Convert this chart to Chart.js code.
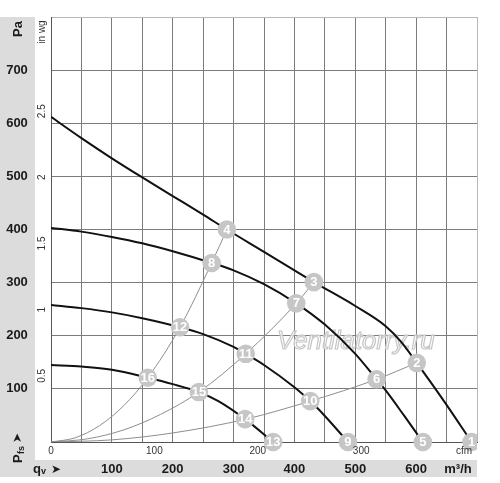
<!DOCTYPE html>
<html>
<head>
<meta charset="utf-8">
<script src="https://cdn.jsdelivr.net/npm/chart.js@4.4.1/dist/chart.umd.min.js"></script>
<style>
  html, body { margin: 0; padding: 0; background: #fff; }
  #wrap { width: 500px; height: 483px; }
</style>
</head>
<body>
<div id="wrap"><canvas id="fan" width="500" height="483"></canvas></div>
<script>
// fan curves (q in m3/h, p in Pa)
const curve1Q = [0, 50, 100, 150, 200, 250, 289, 350, 432, 500, 550, 575, 601, 650, 691];
const curve1P = [612, 572, 534, 498, 463, 428, 400, 358, 301, 256, 218, 189, 149, 70, 0];
const curve2Q = [0, 50, 100, 150, 200, 264, 300, 350, 403, 450, 500, 535, 550, 580, 611];
const curve2P = [403, 396, 386, 374, 359, 337, 323, 297, 261, 221, 166, 118, 97, 50, 0];
const curve3Q = [0, 50, 100, 150, 212, 250, 300, 320, 350, 400, 426, 450, 488];
const curve3P = [258, 252, 244, 233, 216, 203, 179, 166, 145, 103, 77, 49, 0];
const curve4Q = [0, 50, 100, 159, 200, 243, 275, 319, 365];
const curve4P = [145, 142, 136, 121, 109, 94, 77, 43, 0];

// system (resistance) lines from the origin
const sysAQ = [0, 40, 80, 120, 159, 212, 264, 289];
const sysAP = [0, 8, 31, 69, 121, 216, 337, 400];
const sysBQ = [0, 60, 120, 180, 243, 320, 403, 432];
const sysBP = [0, 6, 23, 52, 94, 166, 261, 301];
const sysCQ = [0, 100, 200, 320, 426, 535, 601];
const sysCP = [0, 4, 17, 43, 77, 118, 149];

// numbered operating points
const markQ = [691, 601, 432, 289, 611, 535, 403, 264, 488, 426, 320, 212, 365, 319, 243, 159];
const markP = [0, 149, 301, 400, 0, 118, 261, 337, 0, 77, 166, 216, 0, 43, 94, 121];
const markLabels = ["1", "2", "3", "4", "5", "6", "7", "8", "9", "10", "11", "12", "13", "14", "15", "16"];

// tick labels
const paTicks = [100, 200, 300, 400, 500, 600, 700];
const inwgTicks = [0.5, 1, 1.5, 2, 2.5];
const qTicks = [100, 200, 300, 400, 500, 600];
const cfmTicks = [0, 100, 200, 300];

const PA_PER_INWG = 249.09;
const M3H_PER_CFM = 1.699;

const pts = (qs, ps) => qs.map((q, i) => ({ x: q, y: ps[i] }));

const FONT = "'Liberation Sans', Arial, sans-serif";
Chart.defaults.font.family = FONT;

const curveSet = (qs, ps) => ({
  data: pts(qs, ps),
  borderColor: "#111",
  borderWidth: 2,
  pointRadius: 0,
  cubicInterpolationMode: "monotone",
  order: 1
});
const sysSet = (qs, ps) => ({
  data: pts(qs, ps),
  borderColor: "#8e8e8e",
  borderWidth: 1,
  pointRadius: 0,
  cubicInterpolationMode: "monotone",
  order: 2
});

// gray bands and all the axis texts
const frame = {
  id: "frame",
  beforeDraw(chart) {
    const c = chart.ctx;
    c.save();
    c.fillStyle = "#fff";
    c.fillRect(0, 0, chart.width, chart.height);
    c.fillStyle = "#dcdcdc";
    c.fillRect(0, 17, 35, 460 - 17);
    c.fillRect(0, 460, 477, 17);
    c.restore();
  },
  beforeDatasetsDraw(chart) {
    const c = chart.ctx;
    c.save();
    // watermark
    c.font = "italic 22px 'Liberation Sans', Arial, sans-serif";
    const w = c.measureText("Ventilatorry.ru").width;
    const fs = 22 * 158 / w;
    c.font = "italic " + fs.toFixed(1) + "px 'Liberation Sans', Arial, sans-serif";
    c.textBaseline = "alphabetic";
    c.fillStyle = "rgba(255,255,255,0.7)";
    c.strokeStyle = "#c6c6c6";
    c.lineWidth = 1.2;
    c.fillText("Ventilatorry.ru", 277, 349);
    c.strokeText("Ventilatorry.ru", 277, 349);
    c.restore();
  },
  afterDraw(chart) {
    const c = chart.ctx, x = chart.scales.x, y = chart.scales.y;
    c.save();
    c.fillStyle = "#1a1a1a";
    c.textAlign = "center";
    c.textBaseline = "middle";

    // Pa labels in the left band
    c.font = "bold 13px " + FONT;
    paTicks.forEach(v => c.fillText(String(v), 17, y.getPixelForValue(v)));
    // m3/h labels in the bottom band
    qTicks.forEach(v => c.fillText(String(v), x.getPixelForValue(v), 469.5));
    c.fillText("m³/h", 458, 469.5);

    // qv arrow
    c.textAlign = "left";
    c.textBaseline = "alphabetic";
    c.fillText("q", 33, 473);
    c.font = "bold 9px " + FONT;
    c.fillText("v", 41, 474);
    c.font = "bold 12px 'DejaVu Sans', sans-serif";
    c.textBaseline = "middle";
    c.fillText("➤", 51, 470);

    // Pa title and Pfs arrow, rotated
    c.save();
    c.translate(22, 37);
    c.rotate(-Math.PI / 2);
    c.textBaseline = "alphabetic";
    c.font = "bold 13px " + FONT;
    c.fillText("Pa", 0, 0);
    c.restore();

    c.save();
    c.translate(22, 463);
    c.rotate(-Math.PI / 2);
    c.textBaseline = "alphabetic";
    c.font = "bold 13px " + FONT;
    c.fillText("P", 0, 0);
    c.font = "bold 9px " + FONT;
    c.fillText("fs", 9, 2);
    c.font = "bold 12px 'DejaVu Sans', sans-serif";
    c.textBaseline = "middle";
    c.fillText("➤", 20, -4);
    c.restore();

    // inner in wg axis
    c.fillStyle = "#333";
    c.font = "10px " + FONT;
    inwgTicks.forEach(v => {
      c.save();
      c.translate(42, y.getPixelForValue(v * PA_PER_INWG));
      c.rotate(-Math.PI / 2);
      c.textAlign = "center";
      c.textBaseline = "middle";
      c.fillText(String(v), 0, 0);
      c.restore();
    });
    c.save();
    c.translate(42, 32);
    c.rotate(-Math.PI / 2);
    c.textAlign = "center";
    c.textBaseline = "middle";
    c.fillText("in wg", 0, 0);
    c.restore();

    // inner cfm axis
    c.textAlign = "center";
    c.textBaseline = "middle";
    cfmTicks.forEach(v => c.fillText(String(v), x.getPixelForValue(v * M3H_PER_CFM), 451));
    c.fillText("cfm", 464, 451);
    c.restore();
  },
  afterDatasetsDraw(chart) {
    const c = chart.ctx;
    const meta = chart.getDatasetMeta(0);
    c.save();
    c.beginPath();
    c.rect(0, 0, chart.chartArea.right, chart.height);
    c.clip();
    c.fillStyle = "#fff";
    c.font = "bold 13px " + FONT;
    c.textAlign = "center";
    c.textBaseline = "middle";
    meta.data.forEach((el, i) => c.fillText(markLabels[i], el.x, el.y + 0.5));
    c.restore();
  }
};

new Chart(document.getElementById("fan"), {
  type: "line",
  data: {
    datasets: [
      {
        data: pts(markQ, markP),
        showLine: false,
        pointRadius: 9.3,
        pointHoverRadius: 9.3,
        pointBackgroundColor: "#c6c6c6",
        pointBorderWidth: 0,
        clip: { left: false, top: false, right: 0, bottom: false },
        order: 0
      },
      curveSet(curve1Q, curve1P),
      curveSet(curve2Q, curve2P),
      curveSet(curve3Q, curve3P),
      curveSet(curve4Q, curve4P),
      sysSet(sysAQ, sysAP),
      sysSet(sysBQ, sysBP),
      sysSet(sysCQ, sysCP)
    ]
  },
  options: {
    responsive: false,
    animation: false,
    events: [],
    layout: { padding: { left: 51, top: 17, right: 23, bottom: 41 } },
    plugins: { legend: { display: false }, tooltip: { enabled: false } },
    scales: {
      x: {
        type: "linear", min: 0, max: 700,
        ticks: { display: false, stepSize: 50 },
        grid: {
          drawTicks: false,
          color: ctx => ctx.tick && ctx.tick.value === 700 ? "#b8b8b8" : "#7c7c7c"
        },
        border: { color: "#555", width: 1 }
      },
      y: {
        type: "linear", min: 0, max: 800,
        ticks: { display: false, stepSize: 100 },
        grid: {
          drawTicks: false,
          color: ctx => ctx.tick && ctx.tick.value === 800 ? "#b8b8b8" : "#7c7c7c"
        },
        border: { color: "#555", width: 1 }
      }
    }
  },
  plugins: [frame]
});
</script>
</body>
</html>
